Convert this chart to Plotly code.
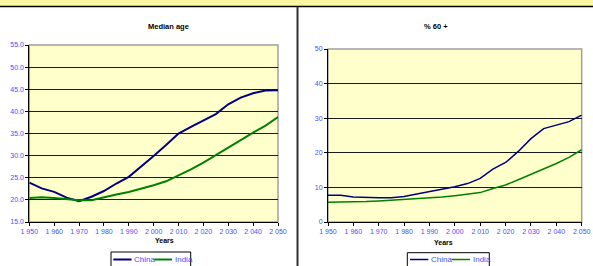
import plotly.graph_objects as go

years = list(range(1950, 2055, 5))
year_ticks = list(range(1950, 2060, 10))
year_tick_labels = ["1 950", "1 960", "1 970", "1 980", "1 990", "2 000", "2 010", "2 020", "2 030", "2 040", "2 050"]

median_china = [23.9, 22.6, 21.8, 20.5, 19.7, 20.7, 22.0, 23.7, 25.2, 27.5, 29.9, 32.4, 35.0,
                36.5, 37.9, 39.4, 41.6, 43.1, 44.1, 44.7, 44.8]
median_india = [20.4, 20.6, 20.4, 20.2, 19.9, 19.9, 20.6, 21.2, 21.8, 22.5, 23.3, 24.2, 25.5,
                26.9, 28.4, 30.1, 31.9, 33.6, 35.2, 36.8, 38.7]

p60_china = [7.7, 7.7, 7.2, 7.0, 7.0, 7.0, 7.4, 8.1, 8.8, 9.4, 10.2, 11.1, 12.6,
             15.3, 17.2, 20.4, 24.1, 27.0, 28.0, 29.0, 30.9]
p60_india = [5.7, 5.7, 5.7, 5.9, 6.1, 6.3, 6.5, 6.7, 6.8, 7.2, 7.6, 8.0, 8.5,
             9.7, 10.7, 12.2, 13.7, 15.4, 16.9, 18.7, 20.9]

median_ticks = [15, 20, 25, 30, 35, 40, 45, 50, 55]
median_tick_labels = ["15.0", "20.0", "25.0", "30.0", "35.0", "40.0", "45.0", "50.0", "55.0"]
p60_ticks = [0, 10, 20, 30, 40, 50]

series_names = ["China", "India"]

W, H = 593, 266
def px(x): return x / W
def py(y): return 1 - y / H

CHINA_C = "#000080"
INDIA_C = "#008000"
colors = [CHINA_C, INDIA_C]
TICK_C = "#4B4BFF"
FONT = "Liberation Sans, Arial, sans-serif"

fig = go.Figure()
fig.add_trace(go.Scatter(x=years, y=median_china, name=series_names[0], mode="lines",
                         line=dict(color=CHINA_C, width=2), xaxis="x", yaxis="y"))
fig.add_trace(go.Scatter(x=years, y=median_india, name=series_names[1], mode="lines",
                         line=dict(color=INDIA_C, width=2), xaxis="x", yaxis="y"))
fig.add_trace(go.Scatter(x=years, y=p60_china, name=series_names[0], mode="lines",
                         line=dict(color=CHINA_C, width=1.5), xaxis="x2", yaxis="y2"))
fig.add_trace(go.Scatter(x=years, y=p60_india, name=series_names[1], mode="lines",
                         line=dict(color=INDIA_C, width=1.5), xaxis="x2", yaxis="y2"))

xcommon = dict(range=[1950, 2050], tickvals=year_ticks, ticktext=year_tick_labels,
               showgrid=False, zeroline=False, showline=True, linecolor="black", linewidth=1,
               ticks="outside", ticklen=3, tickcolor="black",
               tickfont=dict(size=7, color=TICK_C, family=FONT), fixedrange=True)
ycommon = dict(showgrid=True, gridcolor="#1a1a1a", gridwidth=1, zeroline=False,
               showline=True, linecolor="black", linewidth=1,
               ticks="outside", ticklen=3, tickcolor="black",
               tickfont=dict(size=7, color=TICK_C, family=FONT), fixedrange=True)

fig.update_layout(
    width=W, height=H,
    margin=dict(l=0, r=0, t=0, b=0, autoexpand=False),
    paper_bgcolor="white", plot_bgcolor="#FFFFCC",
    font=dict(family=FONT, size=7, color="black"),
    xaxis=dict(domain=[px(29.3), px(278)], anchor="y", **xcommon),
    yaxis=dict(domain=[py(222), py(45)], anchor="x", range=[15, 55],
               tickvals=median_ticks, ticktext=median_tick_labels, **ycommon),
    xaxis2=dict(domain=[px(328), px(581.7)], anchor="y2", **xcommon),
    yaxis2=dict(domain=[py(222), py(49)], anchor="x2", range=[0, 50],
                tickvals=p60_ticks, **ycommon),
    showlegend=False,
)

shapes = [
    dict(type="rect", xref="paper", yref="paper", x0=0, x1=1, y0=py(6.5), y1=1,
         fillcolor="#FBF6A2", line=dict(width=0), layer="above"),
    dict(type="line", xref="paper", yref="paper", x0=0, x1=1, y0=py(6.5), y1=py(6.5),
         line=dict(color="black", width=1.5), layer="above"),
    dict(type="line", xref="paper", yref="paper", x0=px(297.5), x1=px(297.5), y0=0, y1=py(6.5),
         line=dict(color="#333333", width=2), layer="above"),
    dict(type="rect", xref="x domain", yref="y domain", x0=0, x1=1, y0=0, y1=1,
         line=dict(color="#A0A0A0", width=1.5), layer="below"),
    dict(type="rect", xref="x2 domain", yref="y2 domain", x0=0, x1=1, y0=0, y1=1,
         line=dict(color="#A0A0A0", width=1.5), layer="below"),
]

annotations = [
    dict(text="<b>Median age</b>", xref="paper", yref="paper", x=px(146), y=py(20),
         showarrow=False, font=dict(size=7.5, color="black", family=FONT)),
    dict(text="<b>% 60 +</b>", xref="paper", yref="paper", x=px(450), y=py(20),
         showarrow=False, font=dict(size=7.5, color="black", family=FONT)),
    dict(text="<b>Years</b>", xref="paper", yref="paper", x=px(153), y=py(246),
         showarrow=False, font=dict(size=7, color="black", family=FONT)),
    dict(text="<b>Years</b>", xref="paper", yref="paper", x=px(455), y=py(248),
         showarrow=False, font=dict(size=7, color="black", family=FONT)),
]

# Legend boxes (Excel-style, drawn as decorations)
legend_specs = [
    # box x0, x1, top y, text center y, [ (line x0, line x1, text x) per series ]
    (111, 190.7, 252, 259.5, [(113.3, 131.5, 132.0), (154.3, 172.0, 173.0)], 2),
    (407.3, 489.3, 252.7, 259.5, [(410.0, 428.3, 429.0), (451.7, 470.0, 471.0)], 1.5),
]
for bx0, bx1, btop, ty, items, lw in legend_specs:
    shapes.append(dict(type="rect", xref="paper", yref="paper", x0=px(bx0), x1=px(bx1),
                       y0=py(272), y1=py(btop), fillcolor="white",
                       line=dict(color="black", width=1), layer="above"))
    for (lx0, lx1, tx), name, col in zip(items, series_names, colors):
        shapes.append(dict(type="line", xref="paper", yref="paper", x0=px(lx0), x1=px(lx1),
                           y0=py(ty), y1=py(ty), line=dict(color=col, width=lw), layer="above"))
        annotations.append(dict(text=name, xref="paper", yref="paper", x=px(tx), y=py(ty),
                                xanchor="left", yanchor="middle", showarrow=False,
                                font=dict(size=8, color=TICK_C, family=FONT)))

fig.update_layout(shapes=shapes, annotations=annotations)

fig.write_html("out.html", config={"displayModeBar": False},
               post_script="document.body.style.margin='0';document.body.style.padding='0';document.body.style.overflow='hidden';")
